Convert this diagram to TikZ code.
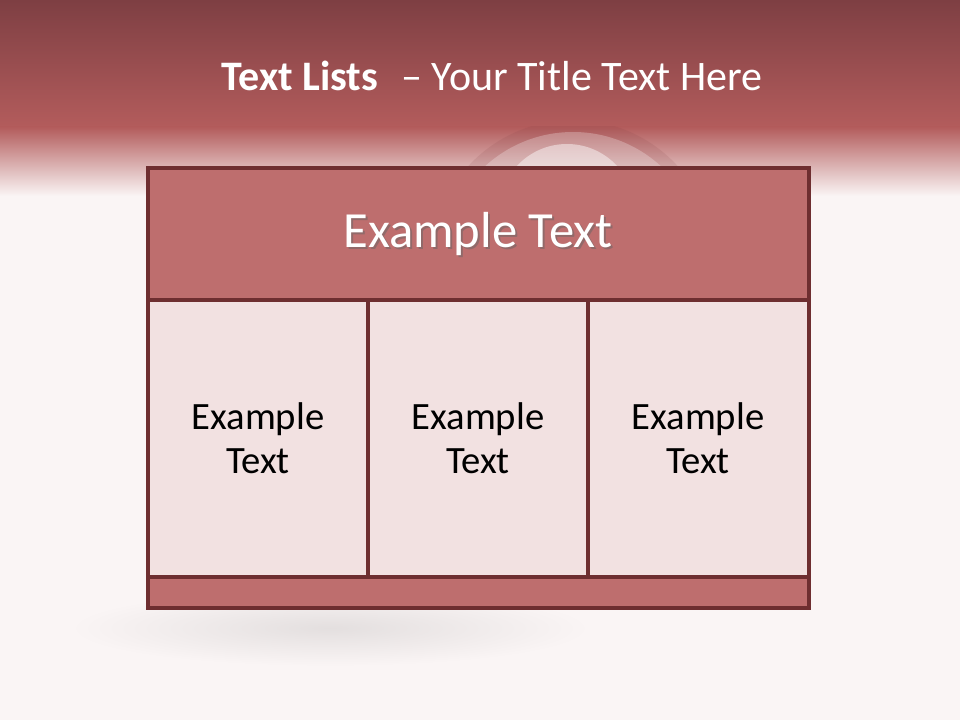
\documentclass[tikz,border=0pt]{standalone}
\usepackage{fontspec}
\setmainfont{Carlito}
\definecolor{slidebg}{HTML}{FAF5F5}
\definecolor{bandtop}{HTML}{7E3F43}
\definecolor{bandlow}{HTML}{B35C5C}
\definecolor{headfill}{HTML}{BE6E6E}
\definecolor{cellfill}{HTML}{F2E1E1}
\definecolor{framecol}{HTML}{6E2E30}
\tikzset{
  cellbox/.style={draw=framecol, line width=2.3pt, fill=cellfill},
  headbox/.style={draw=framecol, line width=2.3pt, fill=headfill},
  celltext/.style={font=\fontsize{29}{33}\selectfont, align=center, text=black},
}
\begin{document}
\begin{tikzpicture}[x=0.75pt,y=-0.75pt]
\useasboundingbox (0,0) rectangle (960,720);
\fill[slidebg] (0,0) rectangle (960,720);
% title band
\shade[top color=bandtop, bottom color=bandlow] (0,0) rectangle (960,127);
\shade[top color=bandlow, middle color=bandlow!35!slidebg, bottom color=slidebg] (0,127) rectangle (960,196);
% faint rings behind the table
\begin{scope}
\clip (0,127) rectangle (960,720);
\fill[bandtop, opacity=0.13] (573,262) circle [radius=142];
\fill[white, opacity=0.25] (573,262) circle [radius=130];
\fill[white, opacity=0.45] (567,212) circle [radius=68];
\end{scope}
% shadow below the table
\shade[inner color=black!9!slidebg, outer color=slidebg] (330,628) ellipse [x radius=260, y radius=38];
\node[text=white, font=\fontsize{31.5}{36}\selectfont] (title) at (492,76) {\textbf{Text Lists}\hspace{0.55em}– Your Title Text Here};
% table
\draw[headbox] (148,168) rectangle (809,300);
\draw[cellbox] (148,300) rectangle (368,577);
\draw[cellbox] (368,300) rectangle (588,577);
\draw[cellbox] (588,300) rectangle (809,577);
\draw[headbox] (148,577) rectangle (809,608);
\node[text=black!60, opacity=0.5, font=\fontsize{38}{44}\selectfont] (headshadow) at (480,236) {Example Text};
\node[text=white, font=\fontsize{38}{44}\selectfont] (head) at (478,234) {Example Text};
\node[celltext] (cella) at (258,438) {Example\\Text};
\node[celltext] (cellb) at (478,438) {Example\\Text};
\node[celltext] (cellc) at (698,438) {Example\\Text};
\end{tikzpicture}
\end{document}
